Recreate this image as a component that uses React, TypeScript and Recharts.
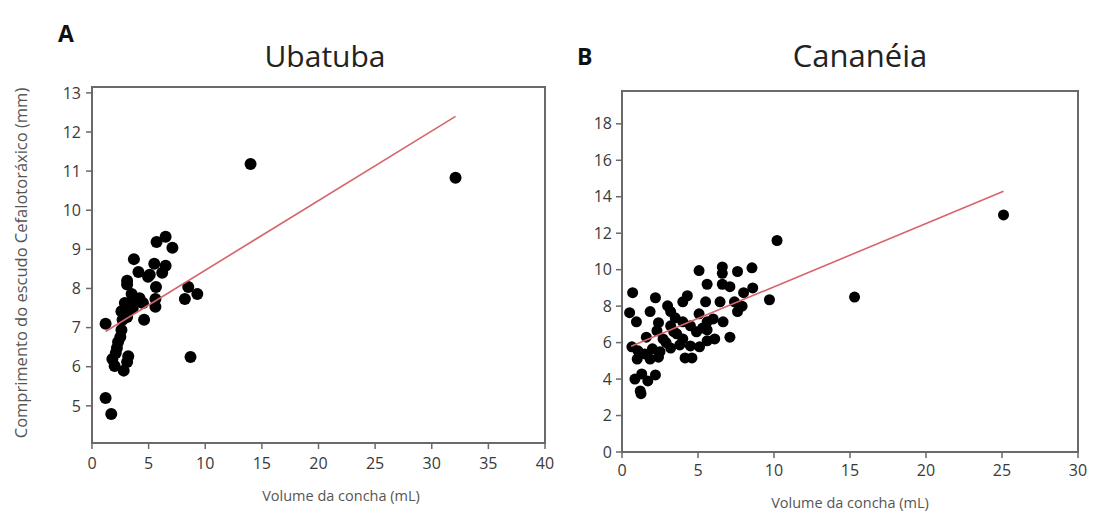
import { ScatterChart, Scatter, XAxis, YAxis, ReferenceArea } from "recharts";

// Ubatuba: shell volume (mL) vs shield length (mm)
const ubaVolume = [
  14.0, 32.1, 5.7, 6.5, 7.1, 3.7, 4.1, 5.5, 6.5, 4.95, 6.2, 3.1, 5.1, 3.1, 5.65, 3.5, 8.5, 8.2,
  9.3, 2.9, 4.0, 4.5, 5.6, 5.6, 2.6, 3.1, 3.6, 4.6, 3.1, 1.2, 2.6, 2.5, 2.3, 2.2, 2.1, 1.8, 3.2,
  3.1, 2.0, 2.8, 8.7, 1.2, 1.7, 3.3, 2.7, 4.2, 3.8,
];
const ubaShield = [
  11.18, 10.83, 9.19, 9.32, 9.04, 8.75, 8.42, 8.63, 8.58, 8.3, 8.4, 8.2, 8.35, 8.1, 8.04, 7.86,
  8.04, 7.73, 7.86, 7.63, 7.7, 7.63, 7.73, 7.53, 7.42, 7.37, 7.5, 7.2, 7.27, 7.1, 6.94, 6.76, 6.63,
  6.48, 6.35, 6.2, 6.27, 6.12, 6.02, 5.9, 6.25, 5.2, 4.79, 7.6, 7.2, 7.75, 7.65,
];
const ubaFitX = [1.2, 32.1];
const ubaFitY = [6.9, 12.4];

// Cananéia
const canVolume = [
  10.2, 5.07, 6.6, 6.6, 7.6, 8.55, 15.3, 25.1, 5.6, 6.6, 7.1, 8.6, 8.0, 9.7, 0.7, 2.2, 4.3, 4.0,
  5.5, 6.45, 7.4, 3.0, 1.85, 3.2, 7.6, 0.5, 0.95, 5.07, 3.5, 4.0, 2.4, 5.6, 6.65, 3.2, 4.5, 5.3,
  4.9, 5.6, 2.3, 3.6, 7.1, 6.1, 5.6, 4.0, 2.7, 1.6, 0.65, 1.05, 3.2, 3.8, 5.1, 4.5, 2.0, 2.5, 1.5,
  1.0, 1.85, 2.4, 4.15, 4.6, 1.3, 2.2, 0.85, 1.7, 1.2, 1.25, 2.9, 3.4, 6.0, 7.9,
];
const canShield = [
  11.6, 9.95, 10.15, 9.8, 9.9, 10.1, 8.5, 13.0, 9.2, 9.2, 9.07, 9.0, 8.74, 8.35, 8.74, 8.46, 8.57,
  8.24, 8.24, 8.24, 8.24, 8.02, 7.7, 7.7, 7.7, 7.64, 7.14, 7.58, 7.36, 7.14, 7.09, 7.14, 7.14, 6.92,
  6.92, 6.8, 6.59, 6.7, 6.65, 6.48, 6.3, 6.2, 6.1, 6.2, 6.2, 6.3, 5.77, 5.55, 5.7, 5.87, 5.77, 5.82,
  5.66, 5.5, 5.38, 5.1, 5.1, 5.2, 5.16, 5.16, 4.28, 4.23, 4.0, 3.9, 3.35, 3.2, 6.0, 6.6, 7.3, 8.0,
];
const canFitX = [0.6, 25.1];
const canFitY = [5.8, 14.3];

const ubaXTicks = [0, 5, 10, 15, 20, 25, 30, 35, 40];
const ubaYTicks = [5, 6, 7, 8, 9, 10, 11, 12, 13];
const canXTicks = [0, 5, 10, 15, 20, 25, 30];
const canYTicks = [0, 2, 4, 6, 8, 10, 12, 14, 16, 18];

const font = "'Open Sans', 'Noto Sans', sans-serif";
const axisColor = "#6a6a6a";
const fitColor = "#d7646c";

const zip = (xs: number[], ys: number[]) => xs.map((x, i) => ({ x, y: ys[i] }));

function Dot(r: number) {
  return (props: any) => <circle cx={props.cx} cy={props.cy} r={r} fill="#000" />;
}

function Panel(props: {
  left: number;
  width: number;
  top: number;
  plotBottom: number;
  yAxisWidth: number;
  xDomain: [number, number];
  yDomain: [number, number];
  xTicks: number[];
  yTicks: number[];
  points: { x: number; y: number }[];
  fit: { x: number; y: number }[];
  dotR: number;
  xTickMargin: number;
  yTickMargin: number;
}) {
  const height = 521;
  const tickStyle = { fontSize: 16, fill: "#3a3a3a", fontFamily: font };
  return (
    <div style={{ position: "absolute", left: props.left, top: 0 }}>
      <ScatterChart
        width={props.width}
        height={height}
        margin={{ top: props.top, right: 17, bottom: 0, left: 0 }}
      >
        <XAxis
          type="number"
          dataKey="x"
          domain={props.xDomain}
          ticks={props.xTicks}
          allowDataOverflow
          height={height - props.plotBottom}
          tick={tickStyle}
          tickSize={6}
          tickMargin={props.xTickMargin}
          axisLine={{ stroke: axisColor, strokeWidth: 2 }}
          tickLine={{ stroke: axisColor, strokeWidth: 1.5 }}
        />
        <YAxis
          type="number"
          dataKey="y"
          domain={props.yDomain}
          ticks={props.yTicks}
          allowDataOverflow
          width={props.yAxisWidth}
          tick={tickStyle}
          tickSize={6}
          tickMargin={props.yTickMargin}
          axisLine={{ stroke: axisColor, strokeWidth: 2 }}
          tickLine={{ stroke: axisColor, strokeWidth: 1.5 }}
        />
        <ReferenceArea
          x1={props.xDomain[0]}
          x2={props.xDomain[1]}
          y1={props.yDomain[0]}
          y2={props.yDomain[1]}
          fill="none"
          stroke={axisColor}
          strokeWidth={2}
        />
        <Scatter data={props.points} shape={Dot(props.dotR)} isAnimationActive={false} />
        <Scatter
          data={props.fit}
          line={{ stroke: fitColor, strokeWidth: 1.6 }}
          shape={() => null}
          isAnimationActive={false}
        />
      </ScatterChart>
    </div>
  );
}

const abs = (left: number, top: number, extra: any = {}) => ({
  position: "absolute" as const,
  left,
  top,
  whiteSpace: "nowrap" as const,
  ...extra,
});

export default function App() {
  return (
    <div
      style={{
        position: "absolute",
        left: 0,
        top: 0,
        width: 1095,
        height: 521,
        background: "#fff",
        fontFamily: font,
        overflow: "hidden",
      }}
    >
      <Panel
        left={0}
        width={562}
        top={87}
        plotBottom={443}
        yAxisWidth={92}
        xDomain={[0, 40]}
        yDomain={[4.05, 13.15]}
        xTicks={ubaXTicks}
        yTicks={ubaYTicks}
        points={zip(ubaVolume, ubaShield)}
        fit={zip(ubaFitX, ubaFitY)}
        dotR={6}
        xTickMargin={9}
        yTickMargin={5}
      />
      <Panel
        left={560}
        width={535}
        top={91}
        plotBottom={452}
        yAxisWidth={62}
        xDomain={[0, 30]}
        yDomain={[0, 19.8]}
        xTicks={canXTicks}
        yTicks={canYTicks}
        points={zip(canVolume, canShield)}
        fit={zip(canFitX, canFitY)}
        dotR={5.5}
        xTickMargin={7}
        yTickMargin={4}
      />
      <div
        style={abs(20, 263, {
          transform: "translate(-50%, -50%) rotate(-90deg)",
          fontSize: 16.5,
          color: "#555",
        })}
      >
        Comprimento do escudo Cefalotoráxico (mm)
      </div>
      <div style={abs(341, 495, { transform: "translate(-50%, -50%)", fontSize: 14.5, color: "#555" })}>
        Volume da concha (mL)
      </div>
      <div style={abs(850, 502, { transform: "translate(-50%, -50%)", fontSize: 14.5, color: "#555" })}>
        Volume da concha (mL)
      </div>
      <div style={abs(58, 17, { fontSize: 23, fontWeight: 700, color: "#111" })}>A</div>
      <div style={abs(325, 55, { transform: "translate(-50%, -50%)", fontSize: 30, color: "#222" })}>
        Ubatuba
      </div>
      <div style={abs(577, 40, { fontSize: 23, fontWeight: 700, color: "#111" })}>B</div>
      <div style={abs(860, 55, { transform: "translate(-50%, -50%)", fontSize: 31, color: "#222" })}>
        Cananéia
      </div>
    </div>
  );
}
